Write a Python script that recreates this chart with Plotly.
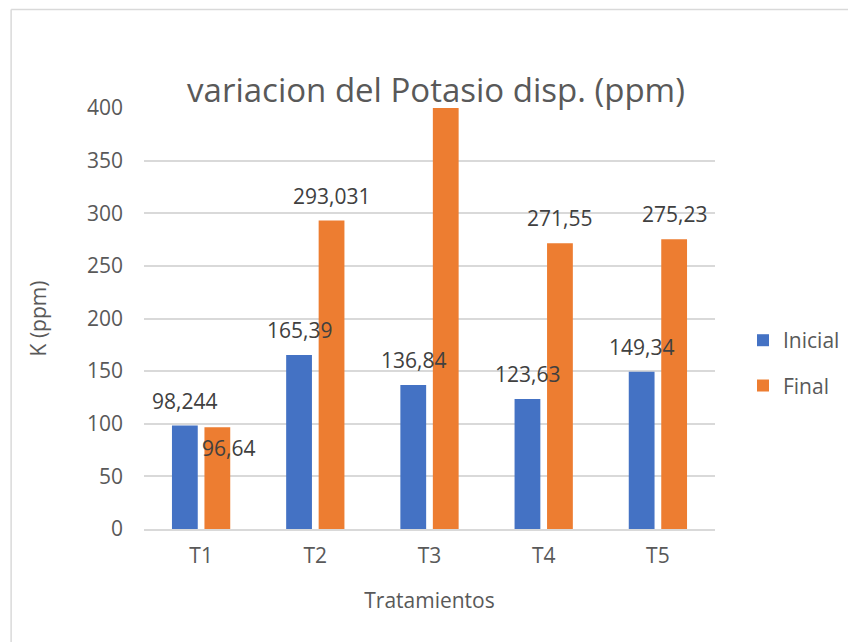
import plotly.graph_objects as go

categories = ["T1", "T2", "T3", "T4", "T5"]
inicial = [98.244, 165.39, 136.84, 123.63, 149.34]
final = [96.64, 293.031, 445.0, 271.55, 275.23]  # T3 final exceeds the axis (clipped in reference)

y_ticks = [0, 50, 100, 150, 200, 250, 300, 350, 400]
Y_MAX = 400

def lab(v):
    return str(v).replace(".", ",")

W, H = 848, 642
L, R, T, B = 143.5, 133, 108.3, 113.3
pw, ph = W - L - R, H - T - B
BARGAP, GROUPGAP = 0.431, 0.206
slot = pw / len(categories) * (1 - BARGAP) / 2

def px(xp):
    return (xp - L) / pw

def py(yp):
    return (H - B - yp) / ph

FONT = "Open Sans"
TXT = "#595959"
LBL = "#404040"
GRID = "#d9d9d9"
FS = 21

fig = go.Figure()
fig.add_trace(go.Bar(
    name="Inicial", x=categories, y=inicial, marker=dict(color="#4472C4", line=dict(width=0)),
    legendgroup="a", cliponaxis=True,
))
fig.add_trace(go.Bar(
    name="Final", x=categories, y=final, marker=dict(color="#ED7D31", line=dict(width=0)),
    legendgroup="b", cliponaxis=True,
))

# data labels (drawn as annotations so they sit above all bars, as in the reference)
for c, v in zip(categories, inicial):
    fig.add_annotation(x=c, y=v, xref="x", yref="y", text=lab(v), showarrow=False,
                       xshift=-slot / 2, yshift=25, yanchor="middle",
                       font=dict(family=FONT, size=FS, color=LBL))
for i, (c, v) in enumerate(zip(categories, final)):
    if v > Y_MAX:
        continue  # label off-chart in the reference
    if i == 0:
        # this label was moved onto the bar in the reference
        fig.add_annotation(x=c, y=v, xref="x", yref="y", text=lab(v), showarrow=False,
                           xshift=27, yshift=-21, yanchor="middle",
                           font=dict(family=FONT, size=FS, color=LBL))
    else:
        fig.add_annotation(x=c, y=v, xref="x", yref="y", text=lab(v), showarrow=False,
                           xshift=slot / 2, yshift=25, yanchor="middle",
                           font=dict(family=FONT, size=FS, color=LBL))

fig.update_layout(
    width=W, height=H,
    margin=dict(l=L, r=R, t=T, b=B, autoexpand=False),
    paper_bgcolor="white", plot_bgcolor="white",
    barmode="group", bargap=BARGAP, bargroupgap=GROUPGAP,
    title=dict(text="variacion del Potasio disp. (ppm)", x=(436 / W), xanchor="center",
               y=1 - 90 / H, yanchor="middle",
               font=dict(family=FONT, size=33, color=TXT)),
    font=dict(family=FONT, size=FS, color=TXT),
    legend=dict(x=px(743), xanchor="left", y=py(363), yanchor="middle",
                font=dict(family=FONT, size=FS, color=TXT), tracegroupgap=15,
                bgcolor="rgba(0,0,0,0)"),
    showlegend=True,
)
fig.update_xaxes(
    showgrid=False, showline=True, linecolor=GRID, linewidth=1.5,
    ticks="", ticklabelstandoff=7,
    tickfont=dict(family=FONT, size=FS, color=TXT),
    title=dict(text="Tratamientos", font=dict(family=FONT, size=FS, color=TXT), standoff=25),
)
fig.update_yaxes(
    range=[0, Y_MAX], tickvals=y_ticks, showgrid=True, gridcolor=GRID, gridwidth=1.5,
    zeroline=False, showline=False, ticks="", ticklabelstandoff=20,
    tickfont=dict(family=FONT, size=FS, color=TXT),
    title=dict(text="K (ppm)", font=dict(family=FONT, size=FS, color=TXT), standoff=34),
)

# outer chart border (left and top edges visible in reference)
fig.add_shape(type="line", xref="paper", yref="paper",
              x0=px(10.5), x1=px(10.5), y0=py(10), y1=py(H + 5),
              line=dict(color=GRID, width=1.5), layer="below")
fig.add_shape(type="line", xref="paper", yref="paper",
              x0=px(10.5), x1=px(W + 5), y0=py(10), y1=py(10),
              line=dict(color=GRID, width=1.5), layer="below")

fig.write_html("out.html", config={"displayModeBar": False},
               post_script="document.body.style.margin='0';document.body.style.overflow='hidden';")
